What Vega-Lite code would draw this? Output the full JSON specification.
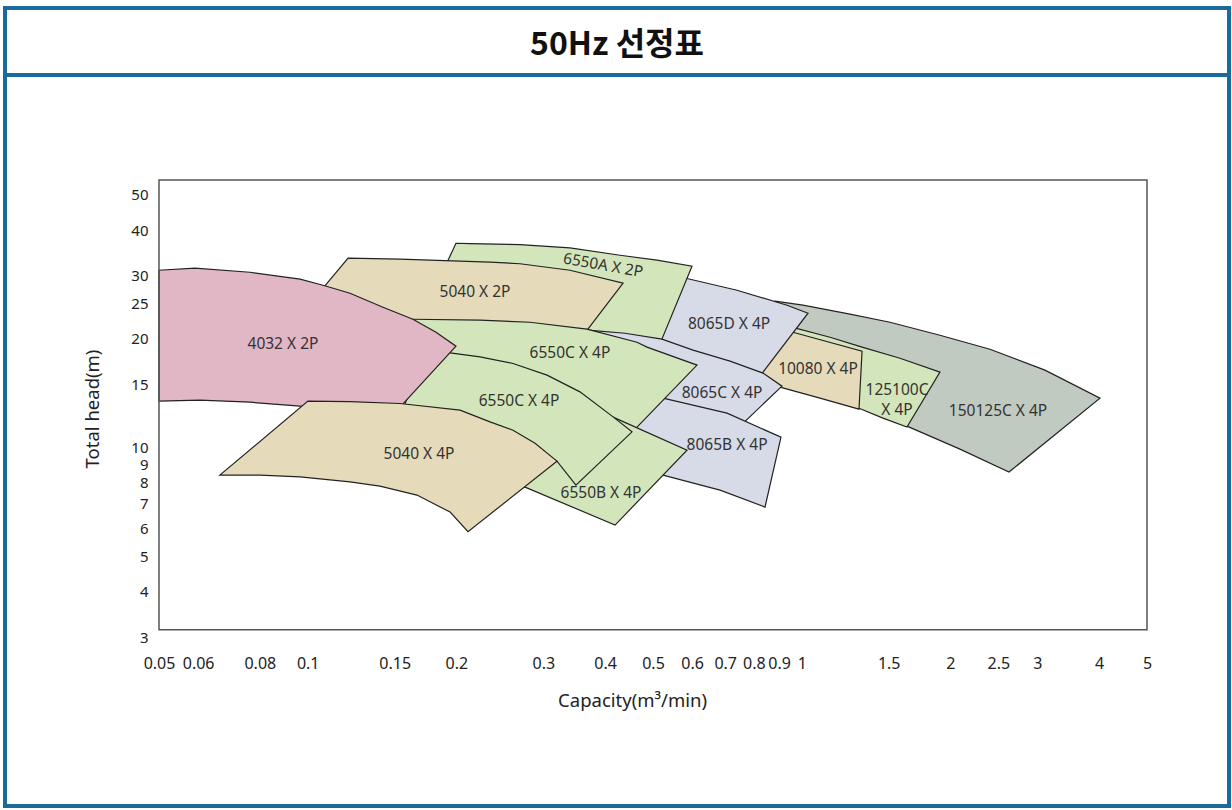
{
  "$schema": "https://vega.github.io/schema/vega-lite/v6.json",
  "padding": {"left": 3, "top": 6, "right": 0, "bottom": 0},
  "bounds": "flush",
  "spacing": 0,
  "background": "white",
  "config": {
    "view": {"stroke": "#1a6a9c", "strokeWidth": 4},
    "axis": {
      "domain": false, "ticks": false, "grid": false,
      "labelFont": "Noto Sans", "labelFontSize": 16, "labelColor": "#222",
      "titleFont": "Noto Sans", "titleFontSize": 18.5, "titleFontWeight": "normal", "titleColor": "#222"
    }
  },
  "datasets": {
    "polys": [
      {"p": "150125C X 4P", "i": 1, "q": 0.8830, "h": 25.43},
      {"p": "150125C X 4P", "i": 2, "q": 1.0061, "h": 24.79},
      {"p": "150125C X 4P", "i": 3, "q": 1.2524, "h": 23.41},
      {"p": "150125C X 4P", "i": 4, "q": 1.5091, "h": 22.24},
      {"p": "150125C X 4P", "i": 5, "q": 1.9048, "h": 20.48},
      {"p": "150125C X 4P", "i": 6, "q": 2.4049, "h": 18.73},
      {"p": "150125C X 4P", "i": 7, "q": 3.1074, "h": 16.40},
      {"p": "150125C X 4P", "i": 8, "q": 4.0160, "h": 13.72},
      {"p": "150125C X 4P", "i": 9, "q": 2.6276, "h": 8.570},
      {"p": "150125C X 4P", "i": 10, "q": 2.0911, "h": 9.917},
      {"p": "150125C X 4P", "i": 11, "q": 1.6333, "h": 11.48},
      {"p": "150125C X 4P", "i": 12, "q": 1.3061, "h": 12.96},
      {"p": "150125C X 4P", "i": 13, "q": 1.0889, "h": 13.98},
      {"p": "150125C X 4P", "i": 14, "q": 0.9250, "h": 14.90},

      {"p": "125100C X 4P", "i": 1, "q": 0.8830, "h": 22.24},
      {"p": "125100C X 4P", "i": 2, "q": 0.9380, "h": 21.69},
      {"p": "125100C X 4P", "i": 3, "q": 1.1409, "h": 20.22},
      {"p": "125100C X 4P", "i": 4, "q": 1.3248, "h": 18.98},
      {"p": "125100C X 4P", "i": 5, "q": 1.5811, "h": 17.69},
      {"p": "125100C X 4P", "i": 6, "q": 1.9048, "h": 16.19},
      {"p": "125100C X 4P", "i": 7, "q": 1.6333, "h": 11.41},
      {"p": "125100C X 4P", "i": 8, "q": 1.4607, "h": 12.08},
      {"p": "125100C X 4P", "i": 9, "q": 1.3061, "h": 12.87},
      {"p": "125100C X 4P", "i": 10, "q": 1.0889, "h": 13.89},
      {"p": "125100C X 4P", "i": 11, "q": 0.9038, "h": 14.90},

      {"p": "10080 X 4P", "i": 1, "q": 0.8626, "h": 21.69},
      {"p": "10080 X 4P", "i": 2, "q": 0.9601, "h": 20.87},
      {"p": "10080 X 4P", "i": 3, "q": 1.3248, "h": 18.50},
      {"p": "10080 X 4P", "i": 4, "q": 1.3061, "h": 12.79},
      {"p": "10080 X 4P", "i": 5, "q": 1.0889, "h": 13.72},
      {"p": "10080 X 4P", "i": 6, "q": 0.9038, "h": 14.71},
      {"p": "10080 X 4P", "i": 7, "q": 0.8119, "h": 15.38},

      {"p": "8065D X 4P", "i": 1, "q": 0.4977, "h": 30.00},
      {"p": "8065D X 4P", "i": 2, "q": 0.5214, "h": 29.68},
      {"p": "8065D X 4P", "i": 3, "q": 0.5859, "h": 29.38},
      {"p": "8065D X 4P", "i": 4, "q": 0.7397, "h": 27.27},
      {"p": "8065D X 4P", "i": 5, "q": 0.9337, "h": 24.79},
      {"p": "8065D X 4P", "i": 6, "q": 1.0298, "h": 23.56},
      {"p": "8065D X 4P", "i": 7, "q": 0.8349, "h": 16.19},
      {"p": "8065D X 4P", "i": 8, "q": 0.7786, "h": 14.25},
      {"p": "8065D X 4P", "i": 9, "q": 0.5941, "h": 16.93},
      {"p": "8065D X 4P", "i": 10, "q": 0.4389, "h": 18.86},

      {"p": "6550A X 2P", "i": 1, "q": 0.1996, "h": 36.77},
      {"p": "6550A X 2P", "i": 2, "q": 0.2131, "h": 36.70},
      {"p": "6550A X 2P", "i": 3, "q": 0.2690, "h": 36.47},
      {"p": "6550A X 2P", "i": 4, "q": 0.3395, "h": 35.69},
      {"p": "6550A X 2P", "i": 5, "q": 0.4288, "h": 34.07},
      {"p": "6550A X 2P", "i": 6, "q": 0.5094, "h": 33.01},
      {"p": "6550A X 2P", "i": 7, "q": 0.5997, "h": 31.77},
      {"p": "6550A X 2P", "i": 8, "q": 0.5142, "h": 19.10},
      {"p": "6550A X 2P", "i": 9, "q": 0.3557, "h": 20.48},
      {"p": "6550A X 2P", "i": 10, "q": 0.2451, "h": 21.69},
      {"p": "6550A X 2P", "i": 11, "q": 0.1688, "h": 22.53},

      {"p": "5040 X 2P", "i": 1, "q": 0.1207, "h": 33.43},
      {"p": "5040 X 2P", "i": 2, "q": 0.1537, "h": 33.22},
      {"p": "5040 X 2P", "i": 3, "q": 0.2339, "h": 32.59},
      {"p": "5040 X 2P", "i": 4, "q": 0.2690, "h": 32.28},
      {"p": "5040 X 2P", "i": 5, "q": 0.3395, "h": 30.97},
      {"p": "5040 X 2P", "i": 6, "q": 0.4349, "h": 28.51},
      {"p": "5040 X 2P", "i": 7, "q": 0.3524, "h": 19.59},
      {"p": "5040 X 2P", "i": 8, "q": 0.2451, "h": 20.74},
      {"p": "5040 X 2P", "i": 9, "q": 0.1537, "h": 21.14},
      {"p": "5040 X 2P", "i": 10, "q": 0.0912, "h": 21.14},

      {"p": "8065C X 4P", "i": 1, "q": 0.3524, "h": 20.74},
      {"p": "8065C X 4P", "i": 2, "q": 0.3692, "h": 21.14},
      {"p": "8065C X 4P", "i": 3, "q": 0.4389, "h": 20.74},
      {"p": "8065C X 4P", "i": 4, "q": 0.5214, "h": 19.97},
      {"p": "8065C X 4P", "i": 5, "q": 0.6025, "h": 18.62},
      {"p": "8065C X 4P", "i": 6, "q": 0.7160, "h": 17.36},
      {"p": "8065C X 4P", "i": 7, "q": 0.8349, "h": 16.09},
      {"p": "8065C X 4P", "i": 8, "q": 0.9121, "h": 14.81},
      {"p": "8065C X 4P", "i": 9, "q": 0.7432, "h": 11.34},
      {"p": "8065C X 4P", "i": 10, "q": 0.6225, "h": 11.63},
      {"p": "8065C X 4P", "i": 11, "q": 0.4931, "h": 11.93},
      {"p": "8065C X 4P", "i": 12, "q": 0.3318, "h": 11.93},

      {"p": "8065B X 4P", "i": 1, "q": 0.4492, "h": 14.25},
      {"p": "8065B X 4P", "i": 2, "q": 0.5239, "h": 13.72},
      {"p": "8065B X 4P", "i": 3, "q": 0.7061, "h": 12.47},
      {"p": "8065B X 4P", "i": 4, "q": 0.9079, "h": 10.70},
      {"p": "8065B X 4P", "i": 5, "q": 0.8427, "h": 6.859},
      {"p": "8065B X 4P", "i": 6, "q": 0.6834, "h": 7.642},
      {"p": "8065B X 4P", "i": 7, "q": 0.5239, "h": 8.408},
      {"p": "8065B X 4P", "i": 8, "q": 0.4598, "h": 8.790},

      {"p": "6550C X 4P (1)", "i": 1, "q": 0.1400, "h": 22.82},
      {"p": "6550C X 4P (1)", "i": 2, "q": 0.1626, "h": 22.67},
      {"p": "6550C X 4P (1)", "i": 3, "q": 0.2232, "h": 22.53},
      {"p": "6550C X 4P (1)", "i": 4, "q": 0.2818, "h": 22.24},
      {"p": "6550C X 4P (1)", "i": 5, "q": 0.3675, "h": 21.28},
      {"p": "6550C X 4P (1)", "i": 6, "q": 0.4641, "h": 19.59},
      {"p": "6550C X 4P (1)", "i": 7, "q": 0.4862, "h": 18.98},
      {"p": "6550C X 4P (1)", "i": 8, "q": 0.6138, "h": 16.93},
      {"p": "6550C X 4P (1)", "i": 9, "q": 0.4641, "h": 11.41},
      {"p": "6550C X 4P (1)", "i": 10, "q": 0.4190, "h": 9.854},
      {"p": "6550C X 4P (1)", "i": 11, "q": 0.3241, "h": 10.50},
      {"p": "6550C X 4P (1)", "i": 12, "q": 0.2451, "h": 11.93},
      {"p": "6550C X 4P (1)", "i": 13, "q": 0.1942, "h": 13.12},
      {"p": "6550C X 4P (1)", "i": 14, "q": 0.1537, "h": 13.98},

      {"p": "6550B X 4P", "i": 1, "q": 0.3241, "h": 14.16},
      {"p": "6550B X 4P", "i": 2, "q": 0.4151, "h": 12.16},
      {"p": "6550B X 4P", "i": 3, "q": 0.5859, "h": 9.854},
      {"p": "6550B X 4P", "i": 4, "q": 0.4190, "h": 6.117},
      {"p": "6550B X 4P", "i": 5, "q": 0.2754, "h": 7.789},
      {"p": "6550B X 4P", "i": 6, "q": 0.2508, "h": 8.248},

      {"p": "6550C X 4P (2)", "i": 1, "q": 0.1728, "h": 18.62},
      {"p": "6550C X 4P (2)", "i": 2, "q": 0.1942, "h": 18.30},
      {"p": "6550C X 4P (2)", "i": 3, "q": 0.2232, "h": 17.84},
      {"p": "6550C X 4P (2)", "i": 4, "q": 0.2604, "h": 17.11},
      {"p": "6550C X 4P (2)", "i": 5, "q": 0.3051, "h": 15.88},
      {"p": "6550C X 4P (2)", "i": 6, "q": 0.3557, "h": 14.28},
      {"p": "6550C X 4P (2)", "i": 7, "q": 0.4151, "h": 12.18},
      {"p": "6550C X 4P (2)", "i": 8, "q": 0.4534, "h": 11.07},
      {"p": "6550C X 4P (2)", "i": 9, "q": 0.3491, "h": 7.889},
      {"p": "6550C X 4P (2)", "i": 10, "q": 0.3196, "h": 9.189},
      {"p": "6550C X 4P (2)", "i": 11, "q": 0.2818, "h": 10.17},
      {"p": "6550C X 4P (2)", "i": 12, "q": 0.2451, "h": 11.05},
      {"p": "6550C X 4P (2)", "i": 13, "q": 0.2034, "h": 11.93},
      {"p": "6550C X 4P (2)", "i": 14, "q": 0.1552, "h": 12.55},

      {"p": "4032 X 2P", "i": 1, "q": 0.0500, "h": 30.97},
      {"p": "4032 X 2P", "i": 2, "q": 0.0591, "h": 31.37},
      {"p": "4032 X 2P", "i": 3, "q": 0.0764, "h": 30.58},
      {"p": "4032 X 2P", "i": 4, "q": 0.0965, "h": 29.25},
      {"p": "4032 X 2P", "i": 5, "q": 0.1074, "h": 28.15},
      {"p": "4032 X 2P", "i": 6, "q": 0.1218, "h": 26.75},
      {"p": "4032 X 2P", "i": 7, "q": 0.1420, "h": 24.47},
      {"p": "4032 X 2P", "i": 8, "q": 0.1633, "h": 22.67},
      {"p": "4032 X 2P", "i": 9, "q": 0.1819, "h": 20.87},
      {"p": "4032 X 2P", "i": 10, "q": 0.1996, "h": 19.10},
      {"p": "4032 X 2P", "i": 11, "q": 0.1467, "h": 12.08},
      {"p": "4032 X 2P", "i": 12, "q": 0.1218, "h": 12.55},
      {"p": "4032 X 2P", "i": 13, "q": 0.0965, "h": 13.04},
      {"p": "4032 X 2P", "i": 14, "q": 0.0764, "h": 13.37},
      {"p": "4032 X 2P", "i": 15, "q": 0.0605, "h": 13.55},
      {"p": "4032 X 2P", "i": 16, "q": 0.0500, "h": 13.46},

      {"p": "5040 X 4P", "i": 1, "q": 0.1001, "h": 13.46},
      {"p": "5040 X 4P", "i": 2, "q": 0.1218, "h": 13.42},
      {"p": "5040 X 4P", "i": 3, "q": 0.1537, "h": 13.26},
      {"p": "5040 X 4P", "i": 4, "q": 0.2034, "h": 12.71},
      {"p": "5040 X 4P", "i": 5, "q": 0.2339, "h": 11.80},
      {"p": "5040 X 4P", "i": 6, "q": 0.2604, "h": 11.19},
      {"p": "5040 X 4P", "i": 7, "q": 0.2885, "h": 10.30},
      {"p": "5040 X 4P", "i": 8, "q": 0.3196, "h": 9.189},
      {"p": "5040 X 4P", "i": 9, "q": 0.2111, "h": 5.862},
      {"p": "5040 X 4P", "i": 10, "q": 0.1942, "h": 6.644},
      {"p": "5040 X 4P", "i": 11, "q": 0.1664, "h": 7.404},
      {"p": "5040 X 4P", "i": 12, "q": 0.1400, "h": 7.839},
      {"p": "5040 X 4P", "i": 13, "q": 0.1218, "h": 8.056},
      {"p": "5040 X 4P", "i": 14, "q": 0.0965, "h": 8.317},
      {"p": "5040 X 4P", "i": 15, "q": 0.0801, "h": 8.408},
      {"p": "5040 X 4P", "i": 16, "q": 0.0664, "h": 8.408}
    ],
    "labels": [
      {"t": "4032 X 2P", "q": 0.0891, "h": 19.34},
      {"t": "5040 X 2P", "q": 0.2181, "h": 26.93},
      {"t": "6550A X 2P", "q": 0.3961, "h": 31.97},
      {"t": "6550C X 4P", "q": 0.3395, "h": 18.26},
      {"t": "6550C X 4P", "q": 0.2678, "h": 13.46},
      {"t": "5040 X 4P", "q": 0.1680, "h": 9.606},
      {"t": "6550B X 4P", "q": 0.3924, "h": 7.499},
      {"t": "8065D X 4P", "q": 0.7127, "h": 21.96},
      {"t": "8065C X 4P", "q": 0.6899, "h": 14.16},
      {"t": "8065B X 4P", "q": 0.7061, "h": 10.17},
      {"t": "10080 X 4P", "q": 1.0789, "h": 16.50},
      {"t": "125100C\nX 4P", "q": 1.5593, "h": 14.44},
      {"t": "150125C X 4P", "q": 2.4965, "h": 12.63}
    ]
  },
  "vconcat": [
    {
      "width": 1224,
      "height": 67,
      "data": {"values": [{"title": "50Hz 선정표", "cx": 0.5, "cy": 0.5}]},
      "mark": {"type": "text", "font": "Noto Sans CJK KR", "fontWeight": "bold", "fontSize": 32, "color": "#111", "align": "center", "baseline": "middle", "dy": 3},
      "encoding": {
        "x": {"field": "cx", "type": "quantitative", "scale": {"domain": [0, 1]}, "axis": null},
        "y": {"field": "cy", "type": "quantitative", "scale": {"domain": [0, 1]}, "axis": null},
        "text": {"field": "title", "type": "nominal"}
      }
    },
    {
      "width": 1224,
      "height": 731,
      "layer": [
        {
          "data": {"name": "polys"},
          "mark": {"type": "line", "interpolate": "linear-closed", "stroke": "#222", "strokeWidth": 1.2},
          "encoding": {
            "x": {
              "field": "q", "type": "quantitative",
              "scale": {"type": "log", "domain": [0.05, 5], "range": [154, 1142], "nice": false},
              "axis": {
                "title": "Capacity(m³/min)",
                "values": [0.05, 0.06, 0.08, 0.1, 0.15, 0.2, 0.3, 0.4, 0.5, 0.6, 0.7, 0.8, 0.9, 1, 1.5, 2, 2.5, 3, 4, 5],
                "format": "~g", "offset": -176, "labelPadding": 25, "labelFlush": false, "labelOverlap": false, "labelColor": "#222",
                "titleX": 627, "titleY": 70, "titleBaseline": "middle"
              }
            },
            "y": {
              "field": "h", "type": "quantitative",
              "scale": {"type": "log", "domain": [3, 55], "range": [562, 105], "nice": false},
              "axis": {
                "title": "Total head(m)",
                "values": [3, 4, 5, 6, 7, 8, 9, 10, 15, 20, 25, 30, 40, 50],
                "format": "~g", "offset": -154, "labelPadding": 11, "labelFontSize": 15, "labelFlush": false, "labelOverlap": false, "labelColor": "#222",
                "titlePadding": 28
              }
            },
            "order": {"field": "i", "type": "quantitative"},
            "fill": {
              "field": "p", "type": "nominal", "legend": null,
              "scale": {
                "domain": ["150125C X 4P", "125100C X 4P", "10080 X 4P", "8065D X 4P", "6550A X 2P", "5040 X 2P", "8065C X 4P", "8065B X 4P", "6550C X 4P (1)", "6550B X 4P", "6550C X 4P (2)", "4032 X 2P", "5040 X 4P"],
                "range": ["#c1cac0", "#d3e6bb", "#e5dab9", "#d7dbe8", "#d3e6bb", "#e5dab9", "#d7dbe8", "#d7dbe8", "#d3e6bb", "#d3e6bb", "#d3e6bb", "#e1b7c6", "#e5dab9"]
              }
            }
          }
        },
        {
          "data": {"values": [{}]},
          "mark": {"type": "rect", "filled": false, "stroke": "#555", "strokeWidth": 1.5},
          "encoding": {
            "x": {"datum": 0.05, "type": "quantitative", "scale": {"type": "log", "domain": [0.05, 5], "range": [154, 1142], "nice": false}},
            "x2": {"datum": 5},
            "y": {"datum": 3.14, "type": "quantitative", "scale": {"type": "log", "domain": [3, 55], "range": [562, 105], "nice": false}},
            "y2": {"datum": 55}
          }
        },
        {
          "data": {"name": "labels"},
          "transform": [{"filter": "datum.t !== '6550A X 2P'"}],
          "mark": {"type": "text", "font": "Noto Sans", "fontSize": 15.5, "color": "#333", "align": "center", "baseline": "middle", "lineBreak": "\n", "lineHeight": 20},
          "encoding": {
            "x": {"field": "q", "type": "quantitative", "scale": {"type": "log", "domain": [0.05, 5], "range": [154, 1142], "nice": false}},
            "y": {"field": "h", "type": "quantitative", "scale": {"type": "log", "domain": [3, 55], "range": [562, 105], "nice": false}},
            "text": {"field": "t", "type": "nominal"}
          }
        },
        {
          "data": {"name": "labels"},
          "transform": [{"filter": "datum.t === '6550A X 2P'"}],
          "mark": {"type": "text", "font": "Noto Sans", "fontSize": 15.5, "color": "#333", "align": "center", "baseline": "middle", "angle": 10},
          "encoding": {
            "x": {"field": "q", "type": "quantitative", "scale": {"type": "log", "domain": [0.05, 5], "range": [154, 1142], "nice": false}},
            "y": {"field": "h", "type": "quantitative", "scale": {"type": "log", "domain": [3, 55], "range": [562, 105], "nice": false}},
            "text": {"field": "t", "type": "nominal"}
          }
        }
      ]
    }
  ]
}
